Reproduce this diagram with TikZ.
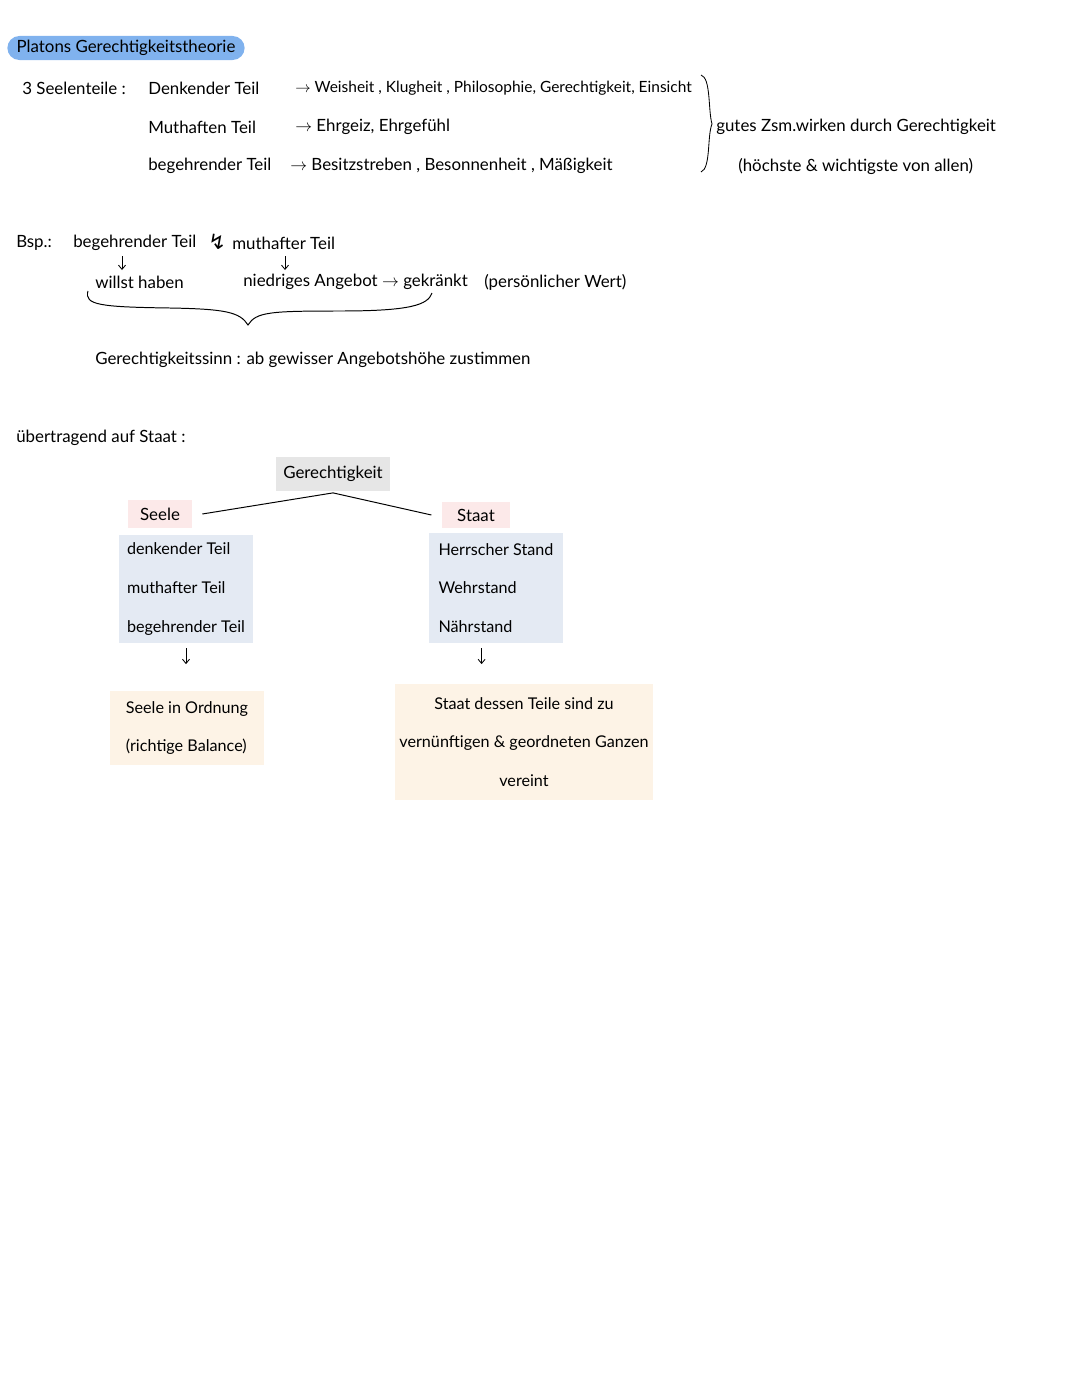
\documentclass[tikz,border=0pt]{standalone}
\usepackage{fontspec}
\setmainfont{Lato}
\newfontfamily\symfont{DejaVu Sans}
\usetikzlibrary{arrows.meta, positioning}
\definecolor{titleblue}{RGB}{128,178,238}
\definecolor{boxgray}{RGB}{230,230,230}
\definecolor{boxpink}{RGB}{252,233,233}
\definecolor{boxblue}{RGB}{228,234,243}
\definecolor{boxbeige}{RGB}{253,243,230}

\begin{document}
\begin{tikzpicture}[x=0.025cm, y=-0.025cm,
  txt/.style={anchor=west, inner sep=0pt, font=\fontsize{12}{14}\selectfont},
  tagbox/.style={inner sep=0pt, font=\fontsize{12}{14}\selectfont},
  colbox/.style={inner sep=0pt, font=\fontsize{11.5}{27.6}\selectfont},
  arr/.style={-{Straight Barb[length=3pt,width=5pt]}, line width=0.6pt}]
 \useasboundingbox (0,0) rectangle (1080,1394);
 % title
 \node[tagbox, fill=titleblue, rounded corners=0.3cm, minimum width=5.93cm, minimum height=0.6cm] (title) at (126,48){Platons Gerechtigkeitstheorie};
 % seelenteile
 \node[txt] (drei) at (22,88){3 Seelenteile :};
 \node[txt] (denk) at (148,88){Denkender Teil};
 \node[txt] (mut) at (148,127){Muthaften Teil};
 \node[txt] (beg) at (148,166){begehrender Teil};
 \node[txt, font=\fontsize{11}{13}\selectfont] (weis) at (295,88){$\rightarrow$ Weisheit , Klugheit , Philosophie, Gerechtigkeit, Einsicht};
 \node[txt] (ehr) at (295,127){$\rightarrow$ Ehrgeiz, Ehrgefühl};
 \node[txt] (besitz) at (290,166){$\rightarrow$ Besitzstreben , Besonnenheit , Mäßigkeit};
 \coordinate (bt) at (701,75);
 \coordinate (bb) at (701,172);
 \draw[line width=0.6pt] (bt) .. controls (711,78) and (708,110) .. (712,124) .. controls (707,136) and (711,168) .. (bb);
 \node[txt] (gutes) at (716,127){gutes Zsm.wirken durch Gerechtigkeit};
 \node[txt] (hoechste) at (738,166){(höchste \& wichtigste von allen)};
 % beispiel
 \node[txt] (bsp) at (16,243){Bsp.:};
 \node[txt] (bbeg) at (73,243){begehrender Teil};
 \node[txt, font=\fontsize{15}{15}\symfont] (blitz) at (208,242){↯};
 \node[txt] (bmut) at (232,243){muthafter Teil};
 \node[txt] (willst) at (95,282){willst haben};
 \node[txt] (niedrig) at (243,282){niedriges Angebot $\rightarrow$ gekränkt};
 \node[txt] (wert) at (484,282){(persönlicher Wert)};
 \draw[arr] (122,256) -- (122,270);
 \draw[arr] (285,256) -- (285,270);
 \coordinate (bl) at (88,291);
 \coordinate (br) at (432,293);
 \draw[line width=0.7pt] (bl) .. controls (84,305) and (100,307) .. (170,308) .. controls (225,309) and (240,312) .. (248,325)
   .. controls (256,312) and (270,311) .. (340,311) .. controls (410,311) and (428,305) .. (br);
 \node[txt] (sinn) at (95,360){Gerechtigkeitssinn : ab gewisser Angebotshöhe zustimmen};
 % staat
 \node[txt] (uebertr) at (16,438){übertragend auf Staat :};
 \node[tagbox, fill=boxgray, minimum width=2.83cm, minimum height=0.83cm] (ger) at (333,474){Gerechtigkeit};
 \node[tagbox, fill=boxpink, minimum width=1.6cm, minimum height=0.7cm] (seele) at (160,514){Seele};
 \node[tagbox, fill=boxpink, minimum width=1.675cm, minimum height=0.65cm] (staat) at (476,515){Staat};
 \draw[line width=0.7pt] ([xshift=0.25cm]seele.east) -- ([yshift=-0.05cm]ger.south) -- ([xshift=-0.27cm]staat.west);
 \node[colbox, fill=boxblue, minimum width=3.35cm, minimum height=2.7cm, align=left] (lbox) at (186,589){denkender Teil\\muthafter Teil\\begehrender Teil};
 \node[colbox, fill=boxblue, minimum width=3.325cm, minimum height=2.75cm, align=left] (rbox) at (496,588){Herrscher Stand\\Wehrstand\\Nährstand};
 \draw[arr] ([yshift=-0.12cm]lbox.south) -- ([yshift=-0.52cm]lbox.south);
 \draw[arr] ([xshift=-0.36cm,yshift=-0.12cm]rbox.south) -- ([xshift=-0.36cm,yshift=-0.52cm]rbox.south);
 \node[colbox, fill=boxbeige, minimum width=3.85cm, minimum height=1.83cm, align=left] (lres) at (187,728){Seele in Ordnung\\(richtige Balance)};
 \node[colbox, fill=boxbeige, minimum width=6.45cm, minimum height=2.9cm, align=center] (rres) at (524,742){Staat dessen Teile sind zu\\vernünftigen \& geordneten Ganzen\\vereint};
\end{tikzpicture}
\end{document}
